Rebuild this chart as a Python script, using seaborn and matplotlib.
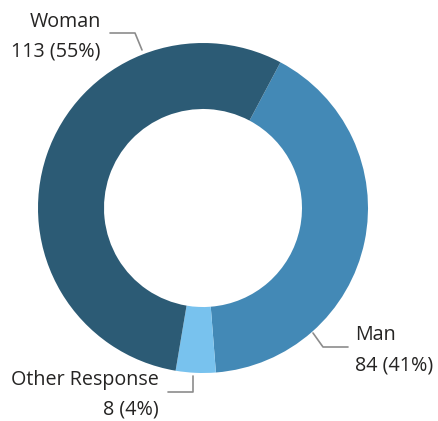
import matplotlib
matplotlib.use("Agg")
import matplotlib.pyplot as plt
import seaborn as sns

# dados do gráfico
categorias = ["Man", "Other Response", "Woman"]
contagens = [84, 8, 113]
cores = ["#4389b6", "#78c2ee", "#2c5b75"]

sns.set_theme(style="white")
plt.rcParams["font.family"] = ["Open Sans", "DejaVu Sans"]

fig = plt.figure(figsize=(4.39, 4.21), dpi=100)
ax = fig.add_axes([0, 0, 1, 1])

# donut: 1 unidade = 1 pixel
cx, cy, raio = 203, 421 - 208, 165
ax.pie(contagens, colors=cores, startangle=62, counterclock=False,
       center=(cx, cy), radius=raio, frame=True,
       wedgeprops=dict(width=66, linewidth=0))
ax.set_xlim(0, 439)
ax.set_ylim(0, 421)
ax.set_aspect("equal")
ax.axis("off")

total = sum(contagens)
rotulos = {c: f"{v} ({round(100 * v / total)}%)" for c, v in zip(categorias, contagens)}

# linhas guia (posições em pixels, y de cima para baixo)
guias = {
    "Woman": ([(142, 50), (135, 33), (110, 33)], (101, 22), "right"),
    "Man": ([(313, 333), (323, 347), (348, 347)], (355, 335), "left"),
    "Other Response": ([(193, 376), (193, 392), (168, 392)], (159, 380), "right"),
}
cor_texto = "#252423"
for cat, (pts, (tx, ty), ha) in guias.items():
    xs = [p[0] for p in pts]
    ys = [421 - p[1] for p in pts]
    ax.plot(xs, ys, color="#8c8c8c", linewidth=1.2)
    ax.text(tx, 421 - ty, cat, ha=ha, va="center", fontsize=14.2, color=cor_texto)
    ax.text(tx, 421 - ty - 30, rotulos[cat], ha=ha, va="center", fontsize=14.2,
            color=cor_texto)

fig.savefig("out.png", dpi=100)
